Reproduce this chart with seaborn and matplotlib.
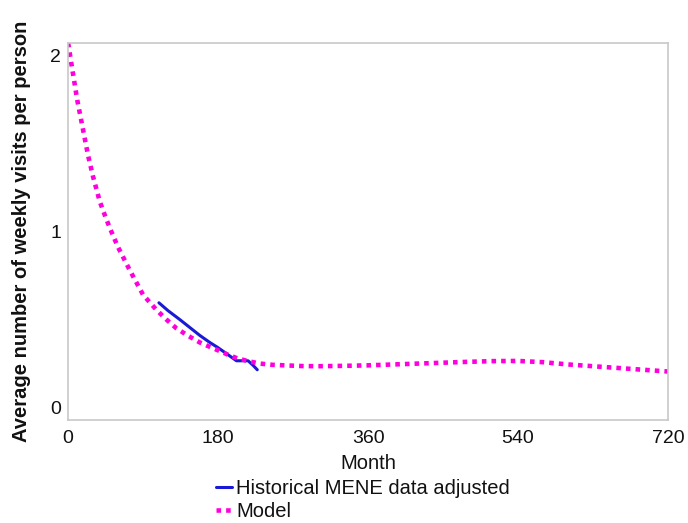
import matplotlib
matplotlib.use("Agg")
import matplotlib.pyplot as plt
import seaborn as sns
import pandas as pd

# model curve
model_month = [0, 5, 11, 17, 24, 30, 38, 45, 50, 60, 74, 90, 106, 118, 130, 145, 158, 170,
               180, 192, 203, 215, 230, 245, 260, 280, 300, 330, 360, 390, 420, 450, 480,
               510, 540, 570, 600, 630, 660, 690, 720]
model_value = [2.07, 1.92, 1.745, 1.60, 1.43, 1.31, 1.17, 1.08, 1.02, 0.91, 0.78, 0.64, 0.555,
               0.50, 0.45, 0.405, 0.37, 0.345, 0.325, 0.30, 0.28, 0.265, 0.25, 0.243, 0.24,
               0.236, 0.235, 0.237, 0.24, 0.245, 0.25, 0.255, 0.26, 0.264, 0.265, 0.258,
               0.245, 0.235, 0.225, 0.215, 0.205]

# historical MENE data (adjusted)
hist_month = [109, 120, 134, 146, 158, 170, 180, 192, 202, 209, 216, 222, 227]
hist_value = [0.595, 0.55, 0.50, 0.455, 0.41, 0.37, 0.34, 0.30, 0.266, 0.266, 0.266, 0.24, 0.215]

x_ticks = [0, 180, 360, 540, 720]
y_ticks = [0, 1, 2]

hist = pd.DataFrame({"Month": hist_month, "value": hist_value})
model = pd.DataFrame({"Month": model_month, "value": model_value})

sns.set_style("white", {"text.color": "#111111", "axes.labelcolor": "#111111",
                        "xtick.color": "#111111", "ytick.color": "#111111"})
plt.rcParams["font.family"] = ["Liberation Sans", "DejaVu Sans"]

fig = plt.figure(figsize=(6.88, 5.23), dpi=100)
ax = fig.add_axes([0.099, 0.197, 0.872, 0.721])

sns.lineplot(data=hist, x="Month", y="value", ax=ax, color="#1a1ad6", linewidth=2.2,
             label="Historical MENE data adjusted")
sns.lineplot(data=model, x="Month", y="value", ax=ax, color="#ff00dd", linewidth=3.3,
             linestyle=(0, (1, 1.1)), label="Model")

ax.set_xlim(0, 720)
ax.set_ylim(-0.07, 2.07)
ax.set_xticks(x_ticks)
ax.set_yticks(y_ticks)
ax.tick_params(axis="both", labelsize=14, length=0)
ax.tick_params(axis="x", pad=7)
ax.tick_params(axis="y", pad=5)
ax.set_xlabel("Month", fontsize=14.5, labelpad=5)
ax.set_ylabel("Average number of weekly visits per person", fontsize=14.5,
              fontweight="bold", labelpad=14)
for s in ax.spines.values():
    s.set_color("#c8c8c8")
    s.set_linewidth(1.2)

ax.legend(loc="upper left", bbox_to_anchor=(0.302, 0.1), bbox_transform=fig.transFigure,
          frameon=False, fontsize=14.5, handlelength=0.8, handletextpad=0.2,
          labelspacing=0.2, borderaxespad=0)

fig.savefig("out.png", dpi=100)
